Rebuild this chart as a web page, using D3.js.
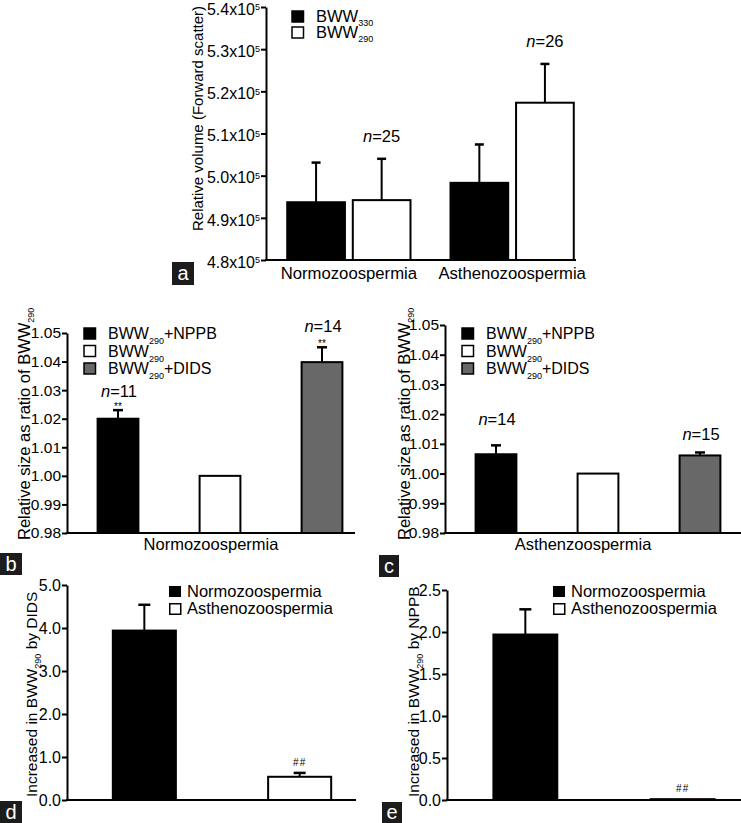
<!DOCTYPE html>
<html><head><meta charset="utf-8">
<script src="https://cdnjs.cloudflare.com/ajax/libs/d3/7.8.5/d3.min.js"></script>
<style>
html,body{margin:0;padding:0;background:#fff;}
svg{display:block;}
text{font-family:"Liberation Sans",Arial,Helvetica,sans-serif;fill:#000;}
</style></head>
<body><svg id="chart" width="741" height="823"></svg>
<script>
// ---------------- DATA ----------------
// Panel a
const groupsA = ["Normozoospermia", "Asthenozoospermia"];
const seriesA = ["BWW330", "BWW290"];
const bww330Mean = [4.937e5, 4.983e5];
const bww330Err  = [0.094e5, 0.091e5];
const bww290Mean = [4.942e5, 5.173e5];
const bww290Err  = [0.098e5, 0.092e5];
const nLabelsA   = ["n=25", "n=26"];
const ticksA     = [4.8e5, 4.9e5, 5.0e5, 5.1e5, 5.2e5, 5.3e5, 5.4e5];
const tickLabelsA = ["4.8", "4.9", "5.0", "5.1", "5.2", "5.3", "5.4"];

// Panels b, c
const treatments = ["BWW290+NPPB", "BWW290", "BWW290+DIDS"];
const normoRatio = [1.020, 1.000, 1.0398];
const normoRatioErr = [0.003, 0, 0.0052];
const normoN = ["n=11", "", "n=14"];
const normoSig = ["**", "", "**"];
const asthenoRatio = [1.0065, 1.000, 1.0061];
const asthenoRatioErr = [0.003, 0, 0.001];
const asthenoN = ["n=14", "", "n=15"];
const ticksBC = [0.98, 0.99, 1.00, 1.01, 1.02, 1.03, 1.04, 1.05];
const tickLabelsBC = ["0.98", "0.99", "1.00", "1.01", "1.02", "1.03", "1.04", "1.05"];

// Panels d, e
const groupsDE = ["Normozoospermia", "Asthenozoospermia"];
const didsIncrease = [3.94, 0.54];
const didsIncreaseErr = [0.60, 0.09];
const nppbIncrease = [1.97, 0.01];
const nppbIncreaseErr = [0.30, 0.0];
const sigDE = ["", "##"];
const ticksD = [0, 1, 2, 3, 4, 5];
const tickLabelsD = ["0.0", "1.0", "2.0", "3.0", "4.0", "5.0"];
const ticksE = [0, 0.5, 1.0, 1.5, 2.0, 2.5];
const tickLabelsE = ["0.0", "0.5", "1.0", "1.5", "2.0", "2.5"];

// ---------------- HELPERS ----------------
const svg = d3.select("#chart");

function rich(sel, parts) {
  let shift = 0;
  parts.forEach(p => {
    const target = p.s || 0;
    const ts = sel.append("tspan").text(p.t);
    if (target - shift !== 0) ts.attr("dy", target - shift);
    shift = target;
    if (p.fs) ts.attr("font-size", p.fs);
    if (p.i) ts.attr("font-style", "italic");
  });
}
function bwwParts(label, sub) {
  const m = label.match(/^BWW(\d+)(.*)$/);
  const parts = [{t: "BWW"}, {t: m[1], fs: 9, s: sub}];
  if (m[2]) parts.push({t: m[2]});
  return parts;
}
function nParts(label) {
  return [{t: "n", i: true}, {t: label.slice(1)}];
}
function yAxis(g, scale, tickVals, tickLabs, fs, sup) {
  const ax = d3.axisLeft(scale).tickValues(tickVals).tickSize(5).tickSizeOuter(0).tickPadding(1)
    .tickFormat((d, i) => tickLabs[i]);
  g.call(ax);
  g.select(".domain").attr("stroke", "#000").attr("stroke-width", 2);
  g.selectAll(".tick line").attr("stroke", "#000").attr("stroke-width", 2);
  g.selectAll(".tick text").attr("font-size", fs).attr("font-family", '"Liberation Sans",Arial,sans-serif').attr("fill", "#000");
  if (sup) {
    g.selectAll(".tick text").attr("dy", "0.45em").each(function(d, i) {
      const t = d3.select(this); t.text(null);
      rich(t, [{t: tickLabs[i] + "x10"}, {t: "5", fs: 9, s: -4.5}]);
    });
  }
}
function xLine(g, x0, x1, y) {
  g.append("line").attr("x1", x0 - 1).attr("x2", x1).attr("y1", y).attr("y2", y)
    .attr("stroke", "#000").attr("stroke-width", 2);
}
function bar(g, x, w, yTop, yBase, fill) {
  g.append("rect").attr("x", x).attr("y", yTop).attr("width", w).attr("height", yBase - yTop)
    .attr("fill", fill).attr("stroke", "#000").attr("stroke-width", 2);
}
function errBar(g, cx, yTop, yErr, cap) {
  if (Math.abs(yTop - yErr) < 0.5) return;
  g.append("line").attr("x1", cx).attr("x2", cx).attr("y1", yTop).attr("y2", yErr).attr("stroke", "#000").attr("stroke-width", 2);
  g.append("line").attr("x1", cx - cap / 2).attr("x2", cx + cap / 2).attr("y1", yErr).attr("y2", yErr).attr("stroke", "#000").attr("stroke-width", 2.5);
}
function panelTag(x, y, w, h, letter) {
  svg.append("rect").attr("x", x).attr("y", y).attr("width", w).attr("height", h).attr("fill", "#1c1c1c");
  svg.append("text").attr("x", x + w / 2).attr("y", y + h / 2 + 6.5).attr("text-anchor", "middle")
    .attr("font-size", 20).style("fill", "#fff").text(letter);
}
function yTitle(x, y, parts, fs) {
  const t = svg.append("text").attr("transform", `translate(${x},${y}) rotate(-90)`)
    .attr("font-size", fs).attr("text-anchor", "start");
  rich(t, parts);
}
function legend(x, y0, dy, items, fs) {
  items.forEach((it, i) => {
    const y = y0 + i * dy;
    svg.append("rect").attr("x", x).attr("y", y - 11).attr("width", 11.5).attr("height", 11)
      .attr("fill", it.fill).attr("stroke", "#000").attr("stroke-width", 1.5);
    const t = svg.append("text").attr("x", x + 24).attr("y", y).attr("font-size", fs);
    rich(t, it.parts);
  });
}

// ---------------- PANEL A ----------------
(function() {
  const g = svg.append("g");
  const y = d3.scaleLinear().domain([4.8e5, 5.4e5]).range([260, 7]);
  const x = d3.scaleBand().domain(groupsA).range([266, 595]).paddingInner(0.245).paddingOuter(0.13);
  const xi = d3.scaleBand().domain(seriesA).range([0, x.bandwidth()]).paddingInner(0.12);
  const series = [
    {key: seriesA[0], mean: bww330Mean, err: bww330Err, fill: "#000"},
    {key: seriesA[1], mean: bww290Mean, err: bww290Err, fill: "#fff"}
  ];
  groupsA.forEach((grp, gi) => {
    series.forEach(s => {
      const bx = x(grp) + xi(s.key);
      errBar(g, bx + xi.bandwidth() / 2, y(s.mean[gi]), y(s.mean[gi] + s.err[gi]), 9);
      bar(g, bx, xi.bandwidth(), y(s.mean[gi]), y.range()[0], s.fill);
    });
    const cx = x(grp) + xi(seriesA[1]) + xi.bandwidth() / 2;
    const t = g.append("text").attr("x", cx).attr("y", y(bww290Mean[gi] + bww290Err[gi]) - 17)
      .attr("text-anchor", "middle").attr("font-size", 16.5);
    rich(t, nParts(nLabelsA[gi]));
    g.append("text").attr("x", x(grp) + x.bandwidth() / 2).attr("y", 279).attr("text-anchor", "middle")
      .attr("font-size", 16.7).text(grp);
  });
  const ga = g.append("g").attr("transform", "translate(266,0)");
  yAxis(ga, y, ticksA, tickLabelsA, 16, true);
  xLine(g, 266, 576, 260);
  legend(292, 22, 16, [
    {fill: "#000", parts: bwwParts(seriesA[0], 3.5)},
    {fill: "#fff", parts: bwwParts(seriesA[1], 3.5)}
  ], 16.5);
  yTitle(203, 231, [{t: "Relative volume (Forward scatter)"}], 15);
  panelTag(172, 262, 22, 23, "a");
})();

// ---------------- PANELS B, C ----------------
function ratioPanel(opt) {
  const g = svg.append("g");
  const y = d3.scaleLinear().domain([0.98, 1.05]).range([533, opt.top]);
  const x = d3.scaleBand().domain(treatments).range([opt.ax, opt.ax + 306]).paddingInner(0.6).paddingOuter(0.3);
  const fills = ["#000", "#fff", "#686868"];
  treatments.forEach((tr, i) => {
    const cx = x(tr) + x.bandwidth() / 2;
    errBar(g, cx, y(opt.vals[i]), y(opt.vals[i] + opt.errs[i]), 10);
    bar(g, x(tr), x.bandwidth(), y(opt.vals[i]), 533, fills[i]);
    if (opt.n[i]) {
      const top = y(opt.vals[i] + opt.errs[i]);
      const hasSig = opt.sig && opt.sig[i];
      if (hasSig) g.append("text").attr("x", cx).attr("y", top - 0.5).attr("text-anchor", "middle").attr("font-size", 10).text(opt.sig[i]);
      const t = g.append("text").attr("x", cx + 1).attr("y", top - opt.nOff[i]).attr("text-anchor", "middle").attr("font-size", 16.5);
      rich(t, nParts(opt.n[i]));
    }
  });
  const ga = g.append("g").attr("transform", `translate(${opt.ax},0)`);
  yAxis(ga, y, ticksBC, tickLabelsBC, 15.5, false);
  xLine(g, opt.ax, opt.axEnd, 533);
  g.append("text").attr("x", opt.labelX).attr("y", 550).attr("text-anchor", "middle").attr("font-size", 16.5).text(opt.label);
  legend(opt.legX, 339, 17.5, treatments.map((tr, i) => ({fill: fills[i], parts: bwwParts(tr, 5)})), 16);
  yTitle(opt.titleX, 540, [{t: "Relative size as ratio of BWW"}, {t: "290", fs: 9, s: 4}], 16.5);
}
ratioPanel({top: 333, ax: 67, axEnd: 355, vals: normoRatio, errs: normoRatioErr, n: normoN, sig: normoSig, nOff: [13, 0, 15],
  label: "Normozoospermia", labelX: 211, legX: 84, titleX: 30});
ratioPanel({top: 325, ax: 445, axEnd: 741, vals: asthenoRatio, errs: asthenoRatioErr, n: asthenoN, sig: null, nOff: [20, 0, 12],
  label: "Asthenzoospermia", labelX: 583, legX: 462, titleX: 410});
panelTag(0, 553, 22, 22, "b");
panelTag(379, 555, 20, 22, "c");

// ---------------- PANELS D, E ----------------
function incPanel(opt) {
  const g = svg.append("g");
  const y = d3.scaleLinear().domain(opt.domain).range([800, opt.top]);
  const x = d3.scaleBand().domain(groupsDE).range([opt.ax, opt.ax + opt.span]).paddingInner(0.594).paddingOuter(0.295);
  const fills = ["#000", "#fff"];
  groupsDE.forEach((gr, i) => {
    const cx = x(gr) + x.bandwidth() / 2;
    errBar(g, cx, y(opt.vals[i]), y(opt.vals[i] + opt.errs[i]), 12);
    bar(g, x(gr), x.bandwidth(), y(opt.vals[i]), 800, fills[i]);
    if (sigDE[i]) g.append("text").attr("x", cx).attr("y", y(opt.vals[i] + opt.errs[i]) - 7)
      .attr("text-anchor", "middle").attr("font-size", 10).attr("letter-spacing", 1).text(sigDE[i]);
  });
  const ga = g.append("g").attr("transform", `translate(${opt.ax},0)`);
  yAxis(ga, y, opt.ticks, opt.tickLabels, 16, false);
  xLine(g, opt.ax, opt.axEnd, 800);
  svg.append("rect").attr("x", opt.legX).attr("y", 586).attr("width", 12).attr("height", 11).attr("fill", "#000");
  svg.append("rect").attr("x", opt.legX + 0.75).attr("y", 603.75).attr("width", 11).attr("height", 10.5).attr("fill", "#fff").attr("stroke", "#000").attr("stroke-width", 1.5);
  svg.append("text").attr("x", opt.legX + 18).attr("y", 597).attr("font-size", 16.5).text(groupsDE[0]);
  svg.append("text").attr("x", opt.legX + 18).attr("y", 614).attr("font-size", 16.5).text(groupsDE[1]);
  yTitle(opt.titleX, 797, [{t: "Increased in BWW"}, {t: "290", fs: 9, s: 4}, {t: " by " + opt.agent}], 15.5);
}
incPanel({domain: [0, 5], top: 585, ax: 67, span: 310, axEnd: 356, vals: didsIncrease, errs: didsIncreaseErr,
  ticks: ticksD, tickLabels: tickLabelsD, legX: 169, titleX: 37, agent: "DIDS"});
incPanel({domain: [0, 2.5], top: 590, ax: 447, span: 314, axEnd: 741, vals: nppbIncrease, errs: nppbIncreaseErr,
  ticks: ticksE, tickLabels: tickLabelsE, legX: 553, titleX: 419, agent: "NPPB"});
panelTag(0, 801, 22, 22, "d");
panelTag(382, 802, 20, 21, "e");
</script>
</body></html>
